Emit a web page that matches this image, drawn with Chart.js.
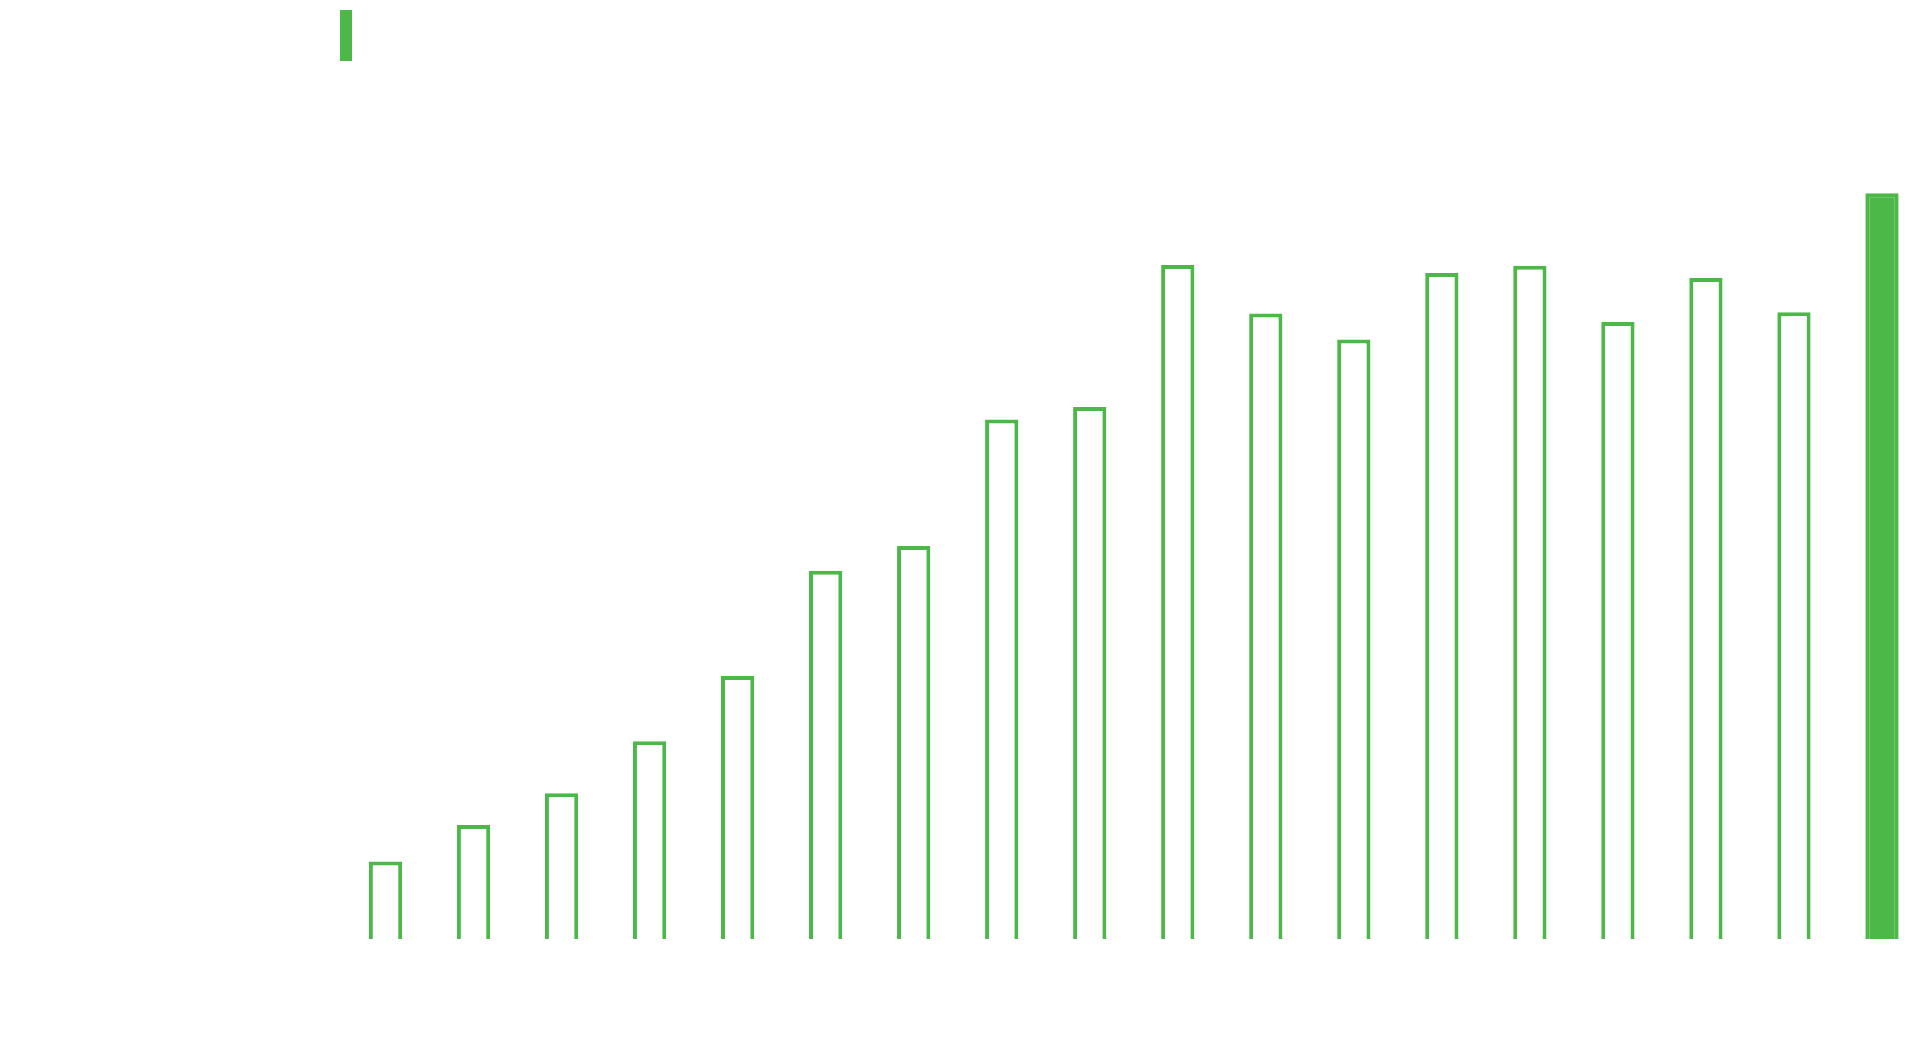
<!DOCTYPE html>
<html lang="en">
<head>
    <meta charset="UTF-8">
    <title>Bar Chart</title>
    <script src="https://cdn.jsdelivr.net/npm/chart.js"></script>
    <style>
        body { margin: 0; background: #ffffff; }
        .chart-container { width: 1928px; height: 1059px; position: relative; }
    </style>
</head>
<body>
    <div class="chart-container">
        <canvas id="barChart"></canvas>
    </div>

    <script>
        // Data (axis text is white in the original)
        const categories = ['1', '2', '3', '4', '5', '6', '7', '8', '9', '10', '11', '12', '13', '14', '15', '16', '17', '18'];
        const values = [12.5, 18.4, 23.5, 31.9, 42.4, 59.4, 63.4, 83.8, 85.8, 108.7, 100.9, 96.7, 107.4, 108.6, 99.5, 106.6, 101.1, 120.3];
        const yTicks = [0, 20, 40, 60, 80, 100, 120, 140];

        const green = '#4cb848';
        // last bar is filled, the rest are outlines
        const fills = values.map((v, i) => i === values.length - 1 ? green : '#ffffff');

        const ctx = document.getElementById('barChart').getContext('2d');
        const barChart = new Chart(ctx, {
            type: 'bar',
            data: {
                labels: categories,
                datasets: [{
                    label: 'Value',
                    data: values,
                    backgroundColor: fills,
                    borderColor: green,
                    borderWidth: 4,
                    borderSkipped: 'bottom',
                    barPercentage: 0.9,
                    categoryPercentage: 0.42
                }]
            },
            options: {
                responsive: true,
                maintainAspectRatio: false,
                animation: false,
                layout: {
                    padding: { left: 330, right: 2, top: 0, bottom: 0 }
                },
                plugins: {
                    legend: {
                        display: true,
                        position: 'top',
                        align: 'start',
                        labels: {
                            boxWidth: 12,
                            boxHeight: 51,
                            padding: 10,
                            color: '#ffffff',
                            // solid green swatch, like the reference
                            generateLabels: (chart) => {
                                const items = Chart.defaults.plugins.legend.labels.generateLabels(chart);
                                items.forEach(item => {
                                    item.fillStyle = green;
                                    item.strokeStyle = green;
                                    item.lineWidth = 0;
                                });
                                return items;
                            }
                        }
                    },
                    tooltip: { enabled: false }
                },
                scales: {
                    x: {
                        grid: { display: false },
                        border: { display: false },
                        ticks: { color: '#ffffff' },
                        afterFit: (scale) => { scale.height = 120; }
                    },
                    y: {
                        min: 0,
                        max: 140,
                        grid: { display: false },
                        border: { display: false },
                        ticks: {
                            color: '#ffffff',
                            stepSize: 20,
                            callback: (v) => yTicks.includes(v) ? v : ''
                        },
                        afterFit: (scale) => { scale.width = 11.5; }
                    }
                }
            }
        });
    </script>
</body>
</html>
